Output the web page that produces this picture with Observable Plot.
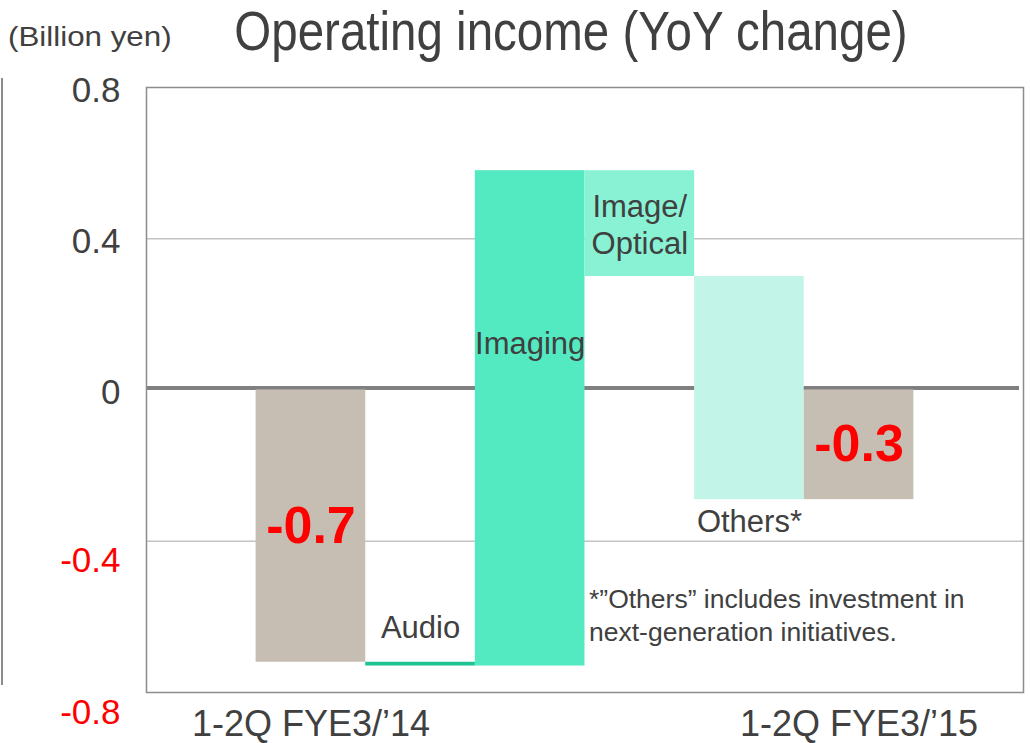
<!DOCTYPE html>
<html>
<head>
<meta charset="utf-8">
<script src="https://cdn.jsdelivr.net/npm/d3@7"></script>
<script src="https://cdn.jsdelivr.net/npm/@observablehq/plot@0.6"></script>
<style>
  body { margin: 0; background: #fff; font-family: "Liberation Sans", Arial, sans-serif; color: #404040; }
  #wrap { position: relative; width: 1030px; height: 743px; overflow: hidden; }
  #header { position: relative; height: 70px; }
  #title { position: absolute; left: 0; width: 1142px; top: 10px; text-align: center; font-size: 47.5px; line-height: 47px; white-space: nowrap; transform: scaleY(1.15); transform-origin: 50% 80%; }
  #unit { position: absolute; left: 8px; top: 22px; font-size: 27px; line-height: 30px; white-space: nowrap; transform: scaleX(1.16); transform-origin: 0 50%; }
  #leftline { position: absolute; left: 1px; top: 78px; width: 2px; height: 607px; background: #8c8c8c; }
  #note { position: absolute; left: 589px; top: 583px; font-size: 26.5px; line-height: 33px; white-space: nowrap; color: #404040; }
</style>
</head>
<body>
<div id="wrap">
  <div id="header">
    <div id="unit">(Billion yen)</div>
    <div id="title">Operating income (YoY change)</div>
  </div>
  <div id="leftline"></div>
  <div id="chart"></div>
  <div id="note">*”Others” includes investment in<br>next-generation initiatives.</div>
</div>
<script>
// ---- data ----
const categories = ["1-2Q FYE3/’14", "Audio", "Imaging", "Image/Optical", "Others", "1-2Q FYE3/’15"];
const isTotal    = [true, false, false, false, false, true];
const values     = [-0.72, -0.01, 1.31, -0.28, -0.59, -0.29];   // totals are levels, others are changes
const barColors  = ["#C6BEB3", "#1EC492", "#53E9C1", "#89F2D4", "#C2F5E7", "#C6BEB3"];
const barLabels  = ["-0.7", "Audio", "Imaging", "Image/\nOptical", "Others*", "-0.3"];
const yTicksPos  = [0, 0.4, 0.8];
const yTicksNeg  = [-0.4, -0.8];
const gridTicks  = [0.4, -0.4];
const xTickLabels = ["1-2Q FYE3/’14", "1-2Q FYE3/’15"];

// ---- waterfall rows ----
let cum = 0;
const rows = categories.map((c, i) => {
  let y1, y2;
  if (isTotal[i]) { y1 = 0; y2 = values[i]; cum = values[i]; }
  else { y1 = cum; y2 = cum + values[i]; cum = y2; }
  return {category: c, y1, y2, lo: Math.min(y1, y2), hi: Math.max(y1, y2), mid: (y1 + y2) / 2, color: barColors[i], label: barLabels[i]};
});
const xDomain = ["_padL", ...categories, "_padR"];
const byName = name => rows.filter(r => r.category === name);

const fmt = d => d === 0 ? "0" : String(d);

const chart = Plot.plot({
  width: 1030,
  height: 673,
  marginLeft: 146,
  marginRight: 7,
  marginTop: 17,
  marginBottom: 51,
  style: {fontFamily: "'Liberation Sans', Arial, sans-serif", background: "white", color: "#404040"},
  x: {type: "band", domain: xDomain, padding: 0, round: false, axis: null},
  y: {domain: [-0.8, 0.8], axis: null},
  color: {type: "identity"},
  marks: [
    Plot.ruleY(gridTicks, {stroke: "#c4c4c4", strokeWidth: 1.5}),
    Plot.ruleY([0], {stroke: "#808080", strokeWidth: 4, dy: -2, insetRight: 4}),
    Plot.barY(rows, {x: "category", y1: "y1", y2: "y2", fill: "color", inset: 0}),
    Plot.frame({stroke: "#8c8c8c", strokeWidth: 1.5}),
    Plot.axisY(yTicksPos, {tickSize: 0, tickPadding: 26, fontSize: 35, color: "#404040", dy: 3, tickFormat: fmt, label: null}),
    Plot.axisY(yTicksNeg, {tickSize: 0, tickPadding: 26, fontSize: 35, color: "red", dy: 20, tickFormat: fmt, label: null}),
    Plot.axisX(xTickLabels, {tickSize: 0, tickPadding: 18, fontSize: 36, color: "#404040", label: null}),
    // total labels
    Plot.text(rows.filter(r => r.category === categories[0] || r.category === categories[5]),
      {x: "category", y: "mid", text: "label", fill: "red", fontWeight: "bold", fontSize: 52, lineAnchor: "middle"}),
    // Audio
    Plot.text(byName("Audio"), {x: "category", y: "lo", text: "label", fill: "#404040", fontSize: 31, lineAnchor: "bottom", dy: -28}),
    // Imaging
    Plot.text(byName("Imaging"), {x: "category", y: "mid", text: "label", fill: "#404040", fontSize: 31, lineAnchor: "middle", dy: -74}),
    // Image/Optical
    Plot.text(byName("Image/Optical"), {x: "category", y: "mid", text: "label", fill: "#404040", fontSize: 31, lineAnchor: "middle", lineHeight: 1.2}),
    // Others
    Plot.text(byName("Others"), {x: "category", y: "lo", text: "label", fill: "#404040", fontSize: 31, lineAnchor: "top", dy: 10})
  ]
});
document.getElementById("chart").appendChild(chart);
</script>
</body>
</html>
